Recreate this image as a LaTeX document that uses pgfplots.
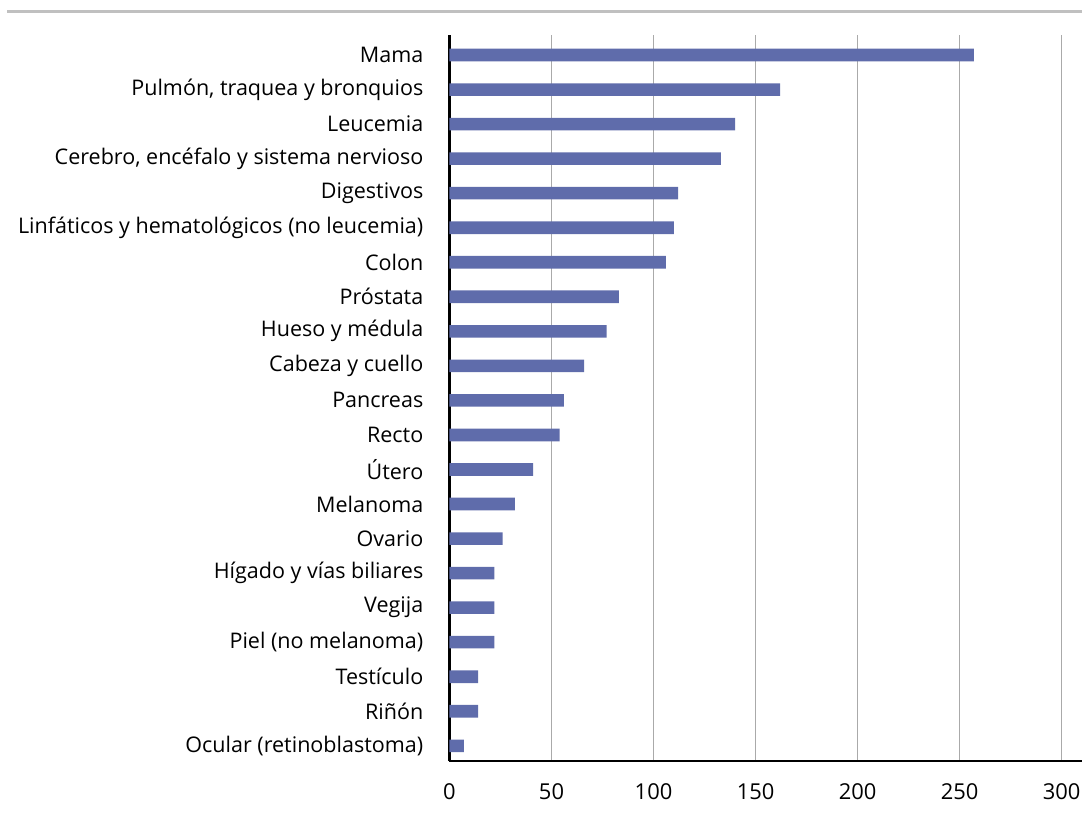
\documentclass[border=0pt]{standalone}
\usepackage{fontspec}
\setmainfont{Open Sans}
\newfontfamily\tickfont{Open Sans}
\usepackage{pgfplots}
\usepackage{pgfplotstable}
\pgfplotsset{compat=1.18}

\definecolor{barblue}{RGB}{95,108,171}
\definecolor{gridgray}{RGB}{170,170,170}
\definecolor{rulegray}{RGB}{192,192,192}

% Casos por tipo de cáncer (0 = fila inferior)
\pgfplotstableread{
idx value
20 257
19 162
18 140
17 133
16 112
15 110
14 106
13 83
12 77
11 66
10 56
9 54
8 41
7 32
6 26
5 22
4 22
3 22
2 14
1 14
0 7
}\casos

\begin{document}
\begin{tikzpicture}
\path[use as bounding box] (0,0) rectangle (1082bp,818bp);
\draw[rulegray, line width=3bp] (7bp,806bp) -- (1082bp,806bp);
\begin{axis}[
  at={(449.5bp,57bp)}, anchor=south west,
  scale only axis,
  width=632.5bp, height=726bp,
  xbar, bar width=12.6bp,
  xmin=0, xmax=310,
  ymin=-0.44, ymax=20.58,
  xtick={0,50,...,300},
  ytick={0,...,20},
  yticklabels={Ocular (retinoblastoma),Riñón,Testículo,Piel (no melanoma),Vegija,Hígado y vías biliares,Ovario,Melanoma,Útero,Recto,Pancreas,Cabeza y cuello,Hueso y médula,Próstata,Colon,Linfáticos y hematológicos (no leucemia),Digestivos,{Cerebro, encéfalo y sistema nervioso},Leucemia,{Pulmón, traquea y bronquios},Mama},
  major tick length=0pt,
  axis x line*=bottom, axis y line*=left,
  axis line style={black, line width=2.2bp, -},
  xmajorgrids, major grid style={gridgray, line width=1bp},
  /pgf/number format/assume math mode=true,
  xticklabel style={font=\tickfont\fontsize{22}{25}\selectfont, inner sep=0pt, anchor=north, yshift=-22bp},
  yticklabel style={font=\fontsize{21.6}{24}\selectfont, inner sep=0pt, anchor=east, xshift=-26bp},
  clip=false,
]
\addplot[fill=barblue, draw=none] table[x=value, y=idx] {\casos};
\end{axis}
\end{tikzpicture}
\end{document}
